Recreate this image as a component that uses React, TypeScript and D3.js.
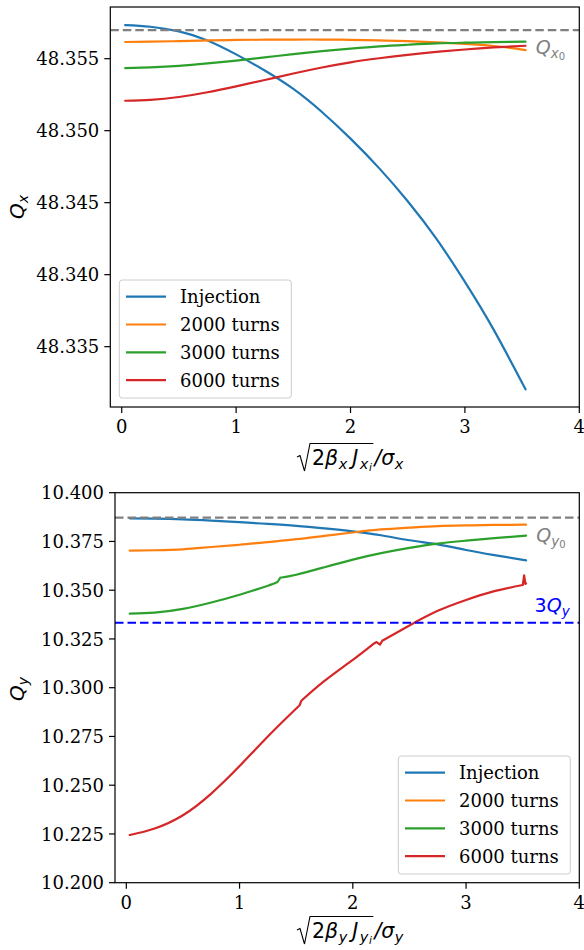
import React, { useLayoutEffect, useRef, useState } from 'react';
import * as d3 from 'd3';

// Series names and colours (matplotlib tab10 cycle)
const seriesNames = ['Injection', '2000 turns', '3000 turns', '6000 turns'];
const seriesColors = ['#1f77b4', '#ff7f0e', '#2ca02c', '#d62728'];

// ---- Horizontal tune Q_x versus normalised amplitude ----
const qxAmp = [0.03, 0.25, 0.5, 0.75, 1.0, 1.25, 1.5, 1.75, 2.0, 2.25, 2.5, 2.75, 3.0, 3.25, 3.53];
const qxInjection = [48.35733, 48.35722, 48.3569, 48.35627, 48.3553, 48.35418, 48.3529, 48.3513, 48.34945, 48.3474, 48.3451, 48.3425, 48.3395, 48.3362, 48.33204];
const qx2000 = [48.35616, 48.35618, 48.35622, 48.35627, 48.3563, 48.35632, 48.35633, 48.35633, 48.35631, 48.35627, 48.35622, 48.35614, 48.35603, 48.35588, 48.3556];
const qx3000 = [48.35435, 48.3544, 48.3545, 48.35467, 48.35487, 48.35509, 48.35532, 48.35552, 48.3557, 48.35586, 48.35597, 48.35606, 48.35611, 48.35615, 48.35618];
const qx6000 = [48.35208, 48.35214, 48.35234, 48.35267, 48.35308, 48.35352, 48.35397, 48.35439, 48.35475, 48.35503, 48.35527, 48.35547, 48.35564, 48.35578, 48.3559];
const qxBare = 48.35699;
const qxDomain = [48.33081, 48.35859];
const qxTicks = [48.335, 48.34, 48.345, 48.35, 48.355];

// ---- Vertical tune Q_y versus normalised amplitude ----
const qyAmp = [0.03, 0.25, 0.5, 0.75, 1.0, 1.25, 1.5, 1.75, 2.0, 2.25, 2.5, 2.75, 3.0, 3.25, 3.53];
const qyInjection = [10.38687, 10.38672, 10.38636, 10.3857, 10.3849, 10.384, 10.383, 10.3817, 10.3802, 10.3782, 10.3756, 10.3735, 10.3706, 10.368, 10.36533];
const qy2000 = [10.37026, 10.3705, 10.37097, 10.37215, 10.3733, 10.3747, 10.37615, 10.3779, 10.3796, 10.38115, 10.3821, 10.38287, 10.38322, 10.38345, 10.38359];
const qy3000Amp = [0.03, 0.25, 0.5, 0.75, 1.0, 1.25, 1.335, 1.36, 1.5, 1.75, 2.0, 2.25, 2.5, 2.75, 3.0, 3.25, 3.53];
const qy3000 = [10.33795, 10.3385, 10.3404, 10.3437, 10.3477, 10.3523, 10.3542, 10.3564, 10.3579, 10.3618, 10.3657, 10.369, 10.3717, 10.3739, 10.3754, 10.3767, 10.37795];
const qy6000Amp = [0.03, 0.25, 0.5, 0.75, 1.0, 1.25, 1.53, 1.545, 1.75, 2.0, 2.18, 2.21, 2.24, 2.26, 2.5, 2.75, 3.0, 3.25, 3.501, 3.513, 3.524, 3.53];
const qy6000 = [10.22446, 10.2278, 10.2346, 10.2457, 10.2598, 10.275, 10.291, 10.2933, 10.3035, 10.3143, 10.3224, 10.3234, 10.3221, 10.3241, 10.3319, 10.3394, 10.345, 10.3495, 10.35267, 10.35764, 10.35318, 10.35354];
const qyBare = 10.3872;
const qyResonance = 10.3333;
const qyDomain = [10.2, 10.4];
const qyTicks = [10.2, 10.225, 10.25, 10.275, 10.3, 10.325, 10.35, 10.375, 10.4];

// index ranges drawn as straight segments (jumps in the tracked tune)
const qy3000Jumps: [number, number][] = [[6, 7]];
const qy6000Jumps: [number, number][] = [[6, 7], [10, 13], [18, 21]];

const ampDomain = [-0.1, 4];
const ampTicks = [0, 1, 2, 3, 4];

const SERIF = "'DejaVu Serif', serif";
const MATH = "'DejaVu Sans', sans-serif";

type Frame = { left: number; right: number; top: number; bottom: number };
type Series = { name: string; color: string; x: number[]; y: number[]; jumps: [number, number][] };

function Radical({ x, y, v }: { x: number; y: number; v: string }) {
  const innerRef = useRef<SVGTextElement>(null);
  const [w, setW] = useState(57);
  useLayoutEffect(() => {
    if (innerRef.current) setW(innerRef.current.getBBox().width);
  }, []);
  const sx = x;
  const textX = sx + 15;
  const topY = y - 21.5;
  const end = textX + w + 1.5;
  return (
    <g>
      <path
        d={`M${sx},${y - 8} L${sx + 3},${y - 9.5} L${sx + 7.5},${y + 6} L${sx + 13},${topY} L${end},${topY}`}
        fill="none"
        stroke="#000"
        strokeWidth={1.1}
      />
      <text ref={innerRef} x={textX} y={y} fontFamily={MATH} fontSize={20.5}>
        <tspan>2</tspan>
        <tspan fontStyle="italic">β</tspan>
        <tspan fontStyle="italic" fontSize={14.5} dy={4} dx={0.5}>{v}</tspan>
        <tspan fontStyle="italic" dy={-4} dx={5}>J</tspan>
        <tspan fontStyle="italic" fontSize={14.5} dy={4} dx={1.5}>{v}</tspan>
        <tspan fontStyle="italic" fontSize={10.5} dy={2} dx={0.5}>i</tspan>
      </text>
      <text x={end + 1} y={y} fontFamily={MATH} fontSize={20.5}>
        <tspan fontStyle="italic">/σ</tspan>
        <tspan fontStyle="italic" fontSize={14.5} dy={4} dx={0.5}>{v}</tspan>
      </text>
    </g>
  );
}

function Panel({
  frame,
  yDomain,
  yTicks,
  series,
  bare,
  resonance,
  axis,
  legend,
  xLabelY,
  yLabelY,
  bareLabelY,
}: {
  frame: Frame;
  yDomain: number[];
  yTicks: number[];
  series: Series[];
  bare: number;
  resonance?: number;
  axis: string;
  legend: { x: number; y: number };
  xLabelY: number;
  yLabelY: number;
  bareLabelY: number;
}) {
  const x = d3.scaleLinear().domain(ampDomain).range([frame.left, frame.right]);
  const y = d3.scaleLinear().domain(yDomain).range([frame.bottom, frame.top]);
  const fmt = d3.format('.3f');
  const tickLen = 6;
  const lw = 2.2;

  const smooth = d3.line().curve(d3.curveNatural);
  const straight = d3.line();
  const buildPath = (s: Series) => {
    const pts: [number, number][] = s.x.map((v, i) => [x(v), y(s.y[i])]);
    let d = '';
    let start = 0;
    for (const [a, b] of s.jumps) {
      if (a > start) d += smooth(pts.slice(start, a + 1)) || '';
      d += straight(pts.slice(a, b + 1)) || '';
      start = b;
    }
    if (start < pts.length - 1) d += smooth(pts.slice(start)) || '';
    return d;
  };

  return (
    <g>
      {series.map((s) => (
        <path key={s.name} d={buildPath(s)} fill="none" stroke={s.color} strokeWidth={lw} strokeLinejoin="round" strokeLinecap="round" />
      ))}

      <line x1={frame.left} x2={frame.right} y1={y(bare)} y2={y(bare)} stroke="#808080" strokeWidth={lw} strokeDasharray="8.5,4" />
      {resonance !== undefined && (
        <line x1={frame.left} x2={frame.right} y1={y(resonance)} y2={y(resonance)} stroke="#0000ff" strokeWidth={lw} strokeDasharray="8.5,4" />
      )}

      {/* tune annotations */}
      <text x={x(3.62)} y={bareLabelY} fontFamily={MATH} fontSize={19} fill="#808080">
        <tspan fontStyle="italic">Q</tspan>
        <tspan fontStyle="italic" fontSize={13.5} dy={4}>{axis}</tspan>
        <tspan fontSize={10} dy={2}>0</tspan>
      </text>
      {resonance !== undefined && (
        <text x={x(3.605)} y={y(resonance) - 10.5} fontFamily={MATH} fontSize={19} fill="#0000ff">
          <tspan>3</tspan>
          <tspan fontStyle="italic">Q</tspan>
          <tspan fontStyle="italic" fontSize={13.5} dy={4}>{axis}</tspan>
        </text>
      )}

      {/* frame */}
      <rect x={frame.left} y={frame.top} width={frame.right - frame.left} height={frame.bottom - frame.top} fill="none" stroke="#000" strokeWidth={1.2} />

      {/* x ticks */}
      {ampTicks.map((t) => (
        <g key={`x${t}`}>
          <line x1={x(t)} x2={x(t)} y1={frame.bottom} y2={frame.bottom + tickLen} stroke="#000" strokeWidth={1.2} />
          <text x={x(t)} y={frame.bottom + 25.8} textAnchor="middle" fontFamily={SERIF} fontSize={18}>
            {t}
          </text>
        </g>
      ))}
      {/* y ticks */}
      {yTicks.map((t) => (
        <g key={`y${t}`}>
          <line x1={frame.left - tickLen} x2={frame.left} y1={y(t)} y2={y(t)} stroke="#000" strokeWidth={1.2} />
          <text x={frame.left - 11} y={y(t) + 6.6} textAnchor="end" fontFamily={SERIF} fontSize={18}>
            {fmt(t)}
          </text>
        </g>
      ))}

      {/* axis labels */}
      <text transform={`translate(24,${yLabelY}) rotate(-90)`} textAnchor="middle" fontFamily={MATH} fontSize={20}>
        <tspan fontStyle="italic">Q</tspan>
        <tspan fontStyle="italic" fontSize={14} dy={4}>{axis}</tspan>
      </text>
      <Radical x={297} y={xLabelY} v={axis} />

      {/* legend */}
      <g transform={`translate(${legend.x},${legend.y})`}>
        <rect x={0} y={0} width={172} height={118} rx={3} fill="#fff" fillOpacity={0.8} stroke="#cccccc" strokeWidth={1} />
        {series.map((s, i) => (
          <g key={s.name} transform={`translate(0,${16.7 + i * 27.8})`}>
            <line x1={6.7} x2={46.7} y1={0} y2={0} stroke={s.color} strokeWidth={lw} />
            <text x={60.7} y={6.5} fontFamily={SERIF} fontSize={18}>
              {s.name}
            </text>
          </g>
        ))}
      </g>
    </g>
  );
}

export default function App() {
  const qxSeries: Series[] = [qxInjection, qx2000, qx3000, qx6000].map((v, i) => ({
    name: seriesNames[i],
    color: seriesColors[i],
    x: qxAmp,
    y: v,
    jumps: [],
  }));
  const qySeries: Series[] = [
    { x: qyAmp, y: qyInjection, jumps: [] as [number, number][] },
    { x: qyAmp, y: qy2000, jumps: [] as [number, number][] },
    { x: qy3000Amp, y: qy3000, jumps: qy3000Jumps },
    { x: qy6000Amp, y: qy6000, jumps: qy6000Jumps },
  ].map((s, i) => ({ name: seriesNames[i], color: seriesColors[i], x: s.x, y: s.y, jumps: s.jumps }));

  return (
    <svg width={584} height={950} style={{ position: 'absolute', left: 0, top: 0, background: '#fff' }}>
      <Panel
        frame={{ left: 110.3, right: 579.3, top: 7, bottom: 407 }}
        yDomain={qxDomain}
        yTicks={qxTicks}
        series={qxSeries}
        bare={qxBare}
        axis="x"
        legend={{ x: 119.3, y: 280 }}
        xLabelY={465}
        yLabelY={207}
        bareLabelY={54}
      />
      <Panel
        frame={{ left: 115, right: 579.3, top: 492.7, bottom: 882.7 }}
        yDomain={qyDomain}
        yTicks={qyTicks}
        series={qySeries}
        bare={qyBare}
        resonance={qyResonance}
        axis="y"
        legend={{ x: 398.3, y: 756 }}
        xLabelY={938}
        yLabelY={689}
        bareLabelY={542}
      />
    </svg>
  );
}
